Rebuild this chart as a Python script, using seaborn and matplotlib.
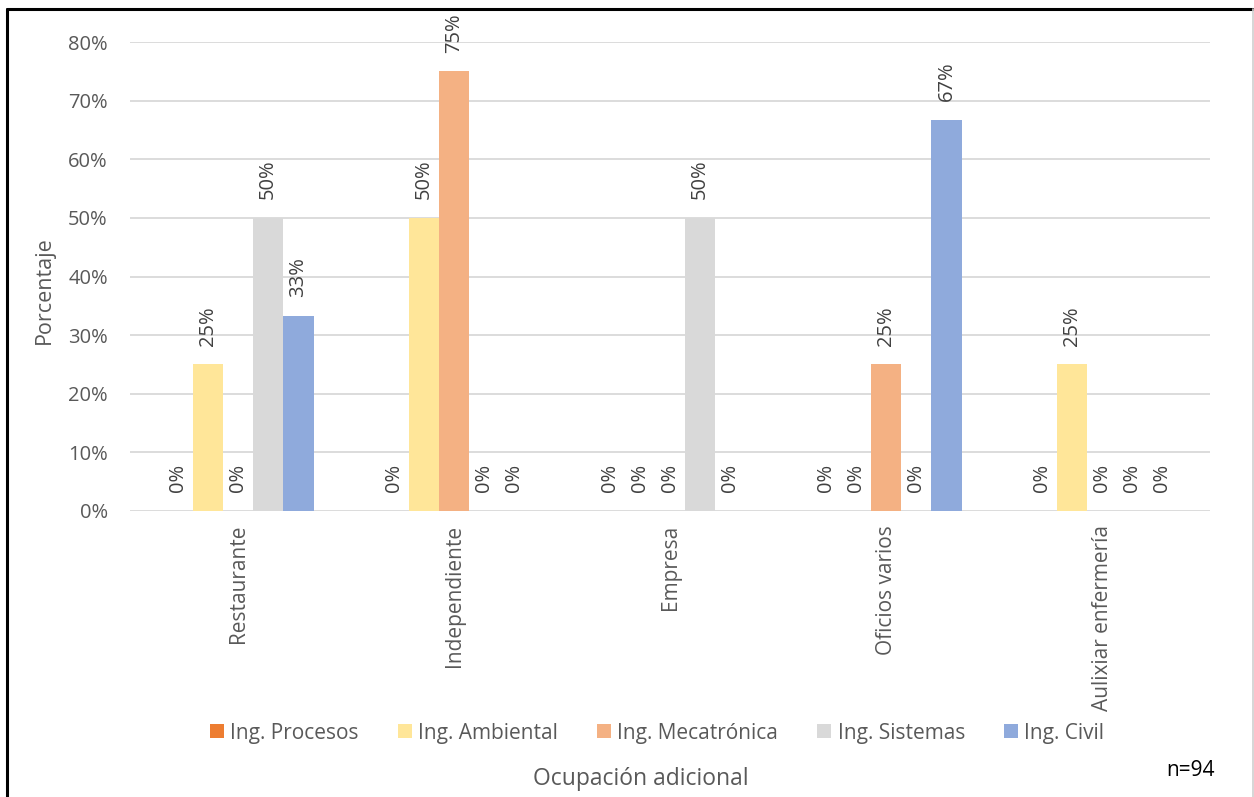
import matplotlib
matplotlib.use("Agg")
import matplotlib.pyplot as plt
from matplotlib.lines import Line2D
from matplotlib.ticker import FuncFormatter
import seaborn as sns
import pandas as pd

# Ocupación adicional por programa (porcentaje)
categorias = ["Restaurante", "Independiente", "Empresa", "Oficios varios", "Aulixiar enfermería"]
programas = ["Ing. Procesos", "Ing. Ambiental", "Ing. Mecatrónica", "Ing. Sistemas", "Ing. Civil"]
ing_procesos = [0, 0, 0, 0, 0]
ing_ambiental = [25, 50, 0, 0, 25]
ing_mecatronica = [0, 75, 0, 25, 0]
ing_sistemas = [50, 0, 50, 0, 0]
ing_civil = [100 / 3, 0, 0, 200 / 3, 0]
colores = ["#ED7D31", "#FFE699", "#F4B183", "#D9D9D9", "#8FAADC"]
y_ticks = [0, 10, 20, 30, 40, 50, 60, 70, 80]

series = [ing_procesos, ing_ambiental, ing_mecatronica, ing_sistemas, ing_civil]
df = pd.DataFrame(
    [(c, p, v) for p, vals in zip(programas, series) for c, v in zip(categorias, vals)],
    columns=["categoria", "programa", "valor"],
)

sns.set_theme(style="white")
plt.rcParams["font.family"] = ["Open Sans", "DejaVu Sans"]
texto = "#595959"

fig = plt.figure(figsize=(12.54, 7.97), dpi=100)
ax = fig.add_axes([130 / 1254, 1 - 511 / 797, 1080 / 1254, 469 / 797])

sns.barplot(
    data=df, x="categoria", y="valor", hue="programa",
    order=categorias, hue_order=programas, palette=colores,
    width=0.7, linewidth=0, saturation=1, ax=ax, legend=False, errorbar=None,
)

ax.set_ylim(0, 80)
ax.set_yticks(y_ticks)
ax.yaxis.set_major_formatter(FuncFormatter(lambda v, _: f"{v:.0f}%"))
ax.grid(axis="y", color="#D9D9D9", linewidth=1.3)
ax.set_axisbelow(True)
for s in ax.spines.values():
    s.set_visible(False)
ax.tick_params(axis="y", length=0, pad=16, labelsize=14.5, labelcolor=texto)
ax.tick_params(axis="x", length=0, pad=10, labelsize=15, labelcolor=texto)
for lab in ax.get_xticklabels():
    lab.set_rotation(90)
    lab.set_va("top")
    lab.set_ha("center")

ax.set_xlabel("")
ax.set_ylabel("Porcentaje", fontsize=15.5, color=texto)
ax.yaxis.set_label_coords(-0.0695, 0.47)

for cont, vals in zip(ax.containers, series):
    ax.bar_label(cont, labels=[f"{v:.0f}%" for v in vals], rotation=90,
                 padding=13.5, fontsize=14.5, color="#404040")

handles = [Line2D([], [], marker="s", linestyle="none", markersize=10,
                  markerfacecolor=c, markeredgewidth=0) for c in colores]
fig.legend(handles, programas, loc="center", bbox_to_anchor=(657 / 1254, 1 - 733 / 797),
           ncol=5, frameon=False, fontsize=15, labelcolor=texto,
           handletextpad=0.3, columnspacing=1.85, handlelength=0.7)

fig.text(641 / 1254, 1 - 779 / 797, "Ocupación adicional", ha="center", va="center",
         fontsize=16.5, color=texto)
fig.text(1190 / 1254, 1 - 770 / 797, "n=94", ha="center", va="center",
         fontsize=15, color="black")

# marco exterior
fig.add_artist(Line2D([6.5 / 1254, 6.5 / 1254], [0, 1 - 8.5 / 797], color="black", linewidth=2.2,
                      transform=fig.transFigure))
fig.add_artist(Line2D([6.5 / 1254, 1253 / 1254], [1 - 8.5 / 797, 1 - 8.5 / 797], color="black",
                      linewidth=2.2, transform=fig.transFigure))
fig.add_artist(Line2D([1252.5 / 1254, 1252.5 / 1254], [0, 1 - 8.5 / 797], color="#D0D0D0",
                      linewidth=1.2, transform=fig.transFigure))

fig.savefig("out.png", dpi=100)
